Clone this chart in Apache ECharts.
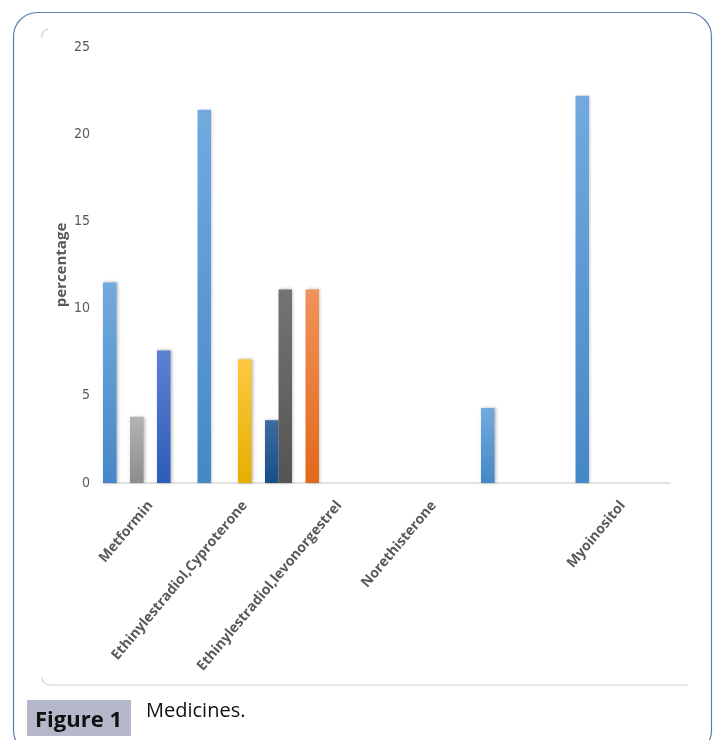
<!DOCTYPE html>
<html>
<head>
<meta charset="utf-8">
<title>Medicines</title>
<script src="https://cdn.jsdelivr.net/npm/echarts@6/dist/echarts.min.js"></script>
<style>
  html, body { margin: 0; padding: 0; background: #ffffff; }
  #chart { width: 717px; height: 740px; }
</style>
</head>
<body>
<div id="chart"></div>
<script>
// Medicine categories (the fifth slot carries no label)
const categories = [
  'Metformin',
  'Ethinylestradiol,Cyproterone',
  'Ethinylestradiol,levonorgestrel',
  'Norethisterone',
  '',
  'Myoinositol'
];

// Percentage values per series, one entry per category
const series1 = [11.5, 21.4, null, null, 4.3, 22.2];
const series2 = [null, null, 11.1, null, null, null];
const series3 = [3.8, null, null, null, null, null];
const series4 = [null, 7.1, null, null, null, null];
const series5 = [7.6, null, null, null, null, null];
const series6 = [null, 3.6, null, null, null, null];
const series7 = [null, 11.1, null, null, null, null];

const yTicks = [0, 5, 10, 15, 20, 25];

// Gradient fills, lighter at the top of each column
const fills = [
  ['#72AADF', '#4588C7'],
  ['#F1925B', '#E1691B'],
  ['#B3B3B3', '#8D8D8D'],
  ['#FFC842', '#E4AF00'],
  ['#5C81D3', '#2E5CB7'],
  ['#3E6B9F', '#174F89'],
  ['#747474', '#545454']
];

const seriesData = [series1, series2, series3, series4, series5, series6, series7];

function columnFill(pair) {
  return {
    type: 'linear', x: 0, y: 0, x2: 0, y2: 1,
    colorStops: [
      { offset: 0, color: pair[0] },
      { offset: 1, color: pair[1] }
    ]
  };
}

const chart = echarts.init(document.getElementById('chart'));

const labelFont = '"Liberation Sans Narrow", "DejaVu Sans Condensed", "Open Sans", sans-serif';

chart.setOption({
  animation: false,
  backgroundColor: '#ffffff',
  grid: { left: 103, right: 47, top: 47, bottom: 257, containLabel: false },
  xAxis: {
    type: 'category',
    data: categories,
    axisLine: { show: true, lineStyle: { color: '#D9D9D9', width: 1.5 } },
    axisTick: { show: false },
    splitLine: { show: false },
    axisLabel: {
      interval: 0,
      rotate: 50,
      margin: 20,
      color: '#595959',
      fontFamily: '"Open Sans", sans-serif',
      fontWeight: 'bold',
      fontSize: 14
    }
  },
  yAxis: {
    type: 'value',
    min: yTicks[0],
    max: yTicks[yTicks.length - 1],
    interval: 5,
    name: 'percentage',
    nameLocation: 'middle',
    nameGap: 34,
    nameMoveOverlap: false,
    nameRotate: 90,
    nameTextStyle: {
      color: '#595959',
      fontFamily: '"Open Sans", sans-serif',
      fontWeight: 'bold',
      fontSize: 15
    },
    axisLine: { show: false },
    axisTick: { show: false },
    splitLine: { show: false },
    axisLabel: {
      margin: 13,
      color: '#595959',
      fontFamily: labelFont,
      fontSize: 14
    }
  },
  series: seriesData.map((vals, i) => ({
    type: 'bar',
    name: 'Series ' + (i + 1),
    data: vals,
    barGap: '0%',
    barCategoryGap: '0%',
    itemStyle: {
      color: columnFill(fills[i]),
      shadowBlur: 3,
      shadowColor: 'rgba(0,0,0,0.28)',
      shadowOffsetX: 1,
      shadowOffsetY: 0
    }
  })),
  graphic: [
    // outer rounded figure frame
    {
      type: 'rect',
      silent: true,
      shape: { x: 13.5, y: 12.5, width: 698, height: 742, r: 24 },
      style: { fill: 'none', stroke: '#5B7EB1', lineWidth: 1.2 }
    },
    // faint chart-area border: top-left corner and bottom edge
    {
      type: 'bezierCurve',
      silent: true,
      shape: { x1: 42, y1: 37, cpx1: 42, cpy1: 30, x2: 48, y2: 29 },
      style: { fill: 'none', stroke: '#C8C8C8', lineWidth: 1.2 }
    },
    {
      type: 'bezierCurve',
      silent: true,
      shape: { x1: 42, y1: 677, cpx1: 42, cpy1: 685, x2: 52, y2: 685 },
      style: { fill: 'none', stroke: '#D4D4D4', lineWidth: 1.2 }
    },
    {
      type: 'line',
      silent: true,
      shape: { x1: 52, y1: 685, x2: 688, y2: 685 },
      style: { stroke: '#D4D4D4', lineWidth: 1.2 }
    },
    // caption
    {
      type: 'rect',
      silent: true,
      shape: { x: 27, y: 700, width: 104, height: 36 },
      style: { fill: '#B5B8CA' }
    },
    {
      type: 'text',
      silent: true,
      left: 35,
      top: 710,
      style: {
        text: 'Figure 1',
        fill: '#111111',
        font: 'bold 22px "Open Sans", sans-serif'
      }
    },
    {
      type: 'text',
      silent: true,
      left: 146,
      top: 701,
      style: {
        text: 'Medicines.',
        fill: '#111111',
        font: '20px "Open Sans", sans-serif'
      }
    }
  ]
});
</script>
</body>
</html>
